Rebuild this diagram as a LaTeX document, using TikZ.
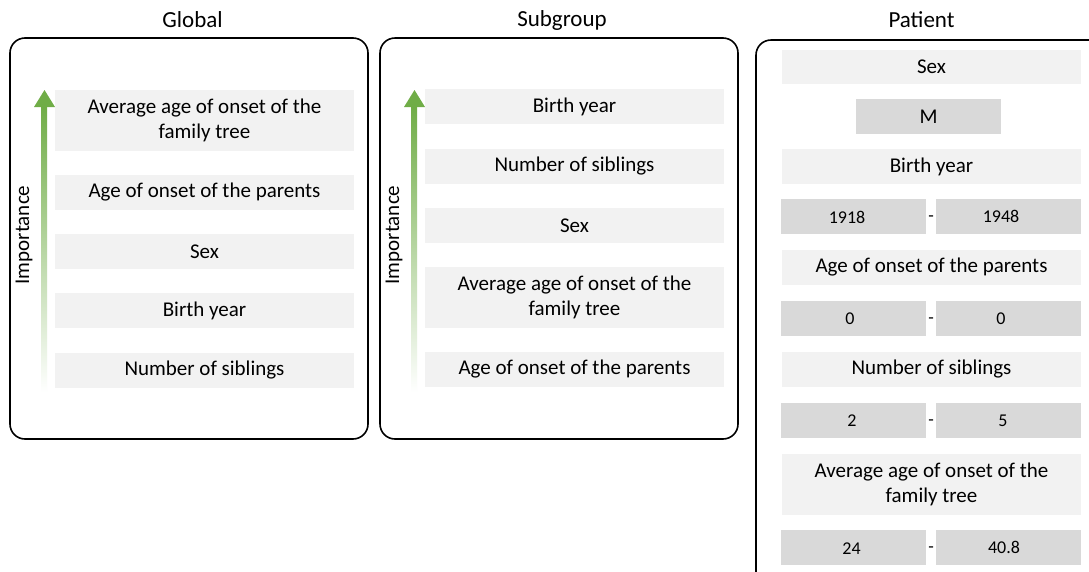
\documentclass[tikz,border=0pt]{standalone}
\usepackage{fontspec}
\setmainfont{Carlito}
\definecolor{lightbox}{HTML}{F2F2F2}
\definecolor{darkbox}{HTML}{D9D9D9}
\definecolor{arrowgreen}{HTML}{70AD47}
\tikzset{
  frame/.style={draw=black, line width=1.6pt, rounded corners=15pt, fill=none, inner sep=0pt},
  title/.style={font=\fontsize{23}{27}\selectfont, inner sep=0pt},
  feat/.style={fill=lightbox, draw=none, minimum width=299pt, inner sep=0pt, align=center,
               font=\fontsize{21}{25}\selectfont},
  val/.style={fill=darkbox, draw=none, minimum width=145pt, minimum height=35pt, inner sep=0pt,
              font=\fontsize{18}{22}\selectfont},
  valtxt/.style={inner sep=0pt, font=\fontsize{18}{22}\selectfont},
  imp/.style={rotate=90, inner sep=0pt, font=\fontsize{21}{25}\selectfont},
  dashtxt/.style={inner sep=0pt, font=\fontsize{18}{22}\selectfont}
}
\begin{document}
\begin{tikzpicture}[x=1pt, y=-1pt]
\useasboundingbox (0,0) rectangle (1089,571);
\fill[white] (0,0) rectangle (1089,571);

% titles
\node[title] (tglobal) at (192.5,20) {Global};
\node[title] (tsub) at (562,20) {Subgroup};
\node[title] (tpat) at (921.5,20) {Patient};

% frames
\node[frame, minimum width=358pt, minimum height=401pt] (fglobal) at (189,238.5) {};
\node[frame, minimum width=358pt, minimum height=401pt] (fsub) at (559,238.5) {};
\begin{scope}
\clip (0,0) rectangle (1089,571);
\node[frame, minimum width=360pt, minimum height=560pt] (fpat) at (936,320) {};
\end{scope}

% arrows (Global)
\shade[top color=arrowgreen, bottom color=white] (41,107) rectangle (47,392);
\fill[arrowgreen] (34,107) -- (55,107) -- (44.5,90) -- cycle;
\node[imp] (iglobal) at (24,235) {Importance};

% arrows (Subgroup)
\shade[top color=arrowgreen, bottom color=white] (411,107) rectangle (417,392);
\fill[arrowgreen] (404,107) -- (425,107) -- (414.5,90) -- cycle;
\node[imp] (isub) at (394,235) {Importance};

% Global features
\node[feat, minimum height=61pt] (g1) at (204.5,120.5) {Average age of onset of the\\family tree};
\node[feat, minimum height=35pt] (g2) at (204.5,192.5) {Age of onset of the parents};
\node[feat, minimum height=35pt] (g3) at (204.5,251.5) {Sex};
\node[feat, minimum height=35pt] (g4) at (204.5,310.5) {Birth year};
\node[feat, minimum height=35pt] (g5) at (204.5,370.5) {Number of siblings};

% Subgroup features
\node[feat, minimum height=35pt] (s1) at (574.5,106.5) {Birth year};
\node[feat, minimum height=35pt] (s2) at (574.5,166.5) {Number of siblings};
\node[feat, minimum height=35pt] (s3) at (574.5,225.5) {Sex};
\node[feat, minimum height=61pt] (s4) at (574.5,297.5) {Average age of onset of the\\family tree};
\node[feat, minimum height=35pt] (s5) at (574.5,369.5) {Age of onset of the parents};

% Patient
\node[feat, minimum height=34pt] (p1) at (931.5,67) {Sex};
\node[val, font=\fontsize{21}{25}\selectfont] (pm) at (928.5,116.5) {M};
\node[feat, minimum height=35pt] (p2) at (931.5,166.5) {Birth year};
\node[val] (p2a) at (853.5,216.5) {};
\node[val] (p2b) at (1008.5,216.5) {};
\node[valtxt] (p2at) at (847,217.5) {1918};
\node[valtxt] (p2bt) at (1001,216) {1948};
\node[dashtxt] (p2d) at (931,219) {-};

\node[feat, minimum height=35pt] (p3) at (931.5,267.5) {Age of onset of the parents};
\node[val] (p3a) at (853.5,318.5) {};
\node[val] (p3b) at (1008.5,318.5) {};
\node[valtxt] (p3at) at (850,319) {0};
\node[valtxt] (p3bt) at (1001,319) {0};
\node[dashtxt] (p3d) at (931,321) {-};

\node[feat, minimum height=35pt] (p4) at (931.5,369.5) {Number of siblings};
\node[val] (p4a) at (853.5,420.5) {};
\node[val] (p4b) at (1008.5,420.5) {};
\node[valtxt] (p4at) at (852,421) {2};
\node[valtxt] (p4bt) at (1003,421) {5};
\node[dashtxt] (p4d) at (931,423) {-};

\node[feat, minimum height=61pt] (p5) at (931.5,484.5) {Average age of onset of the\\family tree};
\node[val] (p5a) at (853.5,547.5) {};
\node[val] (p5b) at (1008.5,547.5) {};
\node[valtxt] (p5at) at (851.5,549) {24};
\node[valtxt] (p5bt) at (1004,547) {40.8};
\node[dashtxt] (p5d) at (931,550) {-};
\end{tikzpicture}
\end{document}
